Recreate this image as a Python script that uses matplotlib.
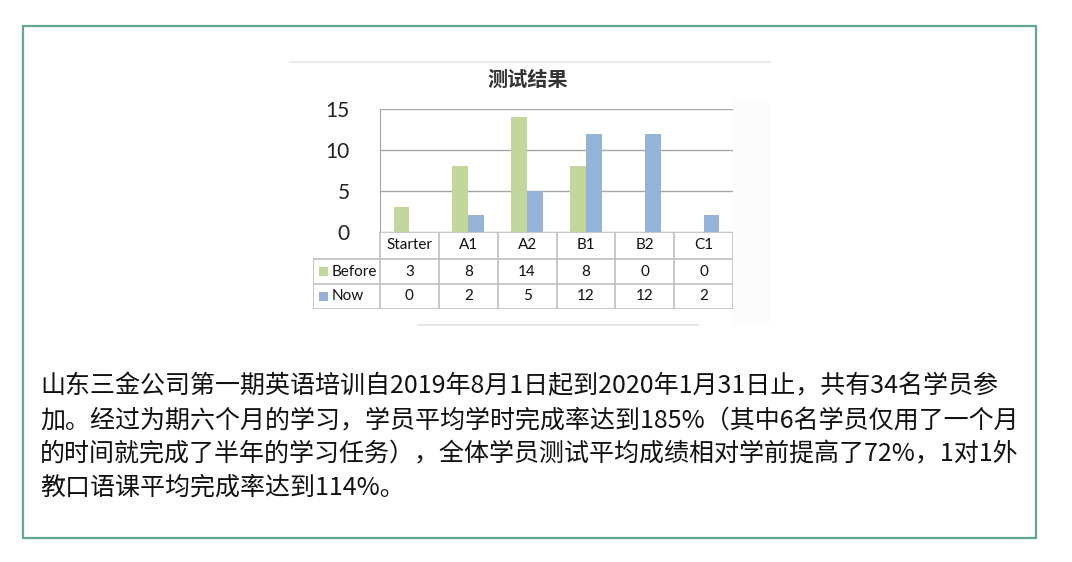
import matplotlib.pyplot as plt
import matplotlib.patches as mpatches
import numpy as np

plt.rcParams['font.family'] = ['Noto Sans CJK SC', 'DejaVu Sans']

categories = ["Starter", "A1", "A2", "B1", "B2", "C1"]
before = [3, 8, 14, 8, 0, 0]
now = [0, 2, 5, 12, 12, 2]
series_names = ["Before", "Now"]
yticks = [0, 5, 10, 15]
chart_title = "测试结果"
paragraph = [
    "山东三金公司第一期英语培训自2019年8月1日起到2020年1月31日止，共有34名学员参",
    "加。经过为期六个月的学习，学员平均学时完成率达到185%（其中6名学员仅用了一个月",
    "的时间就完成了半年的学习任务），全体学员测试平均成绩相对学前提高了72%，1对1外",
    "教口语课平均完成率达到114%。",
]

W, H = 1072, 562
green = "#c3d69b"
blue = "#95b3d7"
grid_gray = "#a6a6a6"
cell_gray = "#bfbfbf"

fig = plt.figure(figsize=(W / 100, H / 100), dpi=100)


def px_axes(x0, y0, x1, y1, **kw):
    # pixel box (top-left origin) -> figure axes
    return fig.add_axes([x0 / W, 1 - y1 / H, (x1 - x0) / W, (y1 - y0) / H], **kw)


# page frame
bg = px_axes(0, 0, W, H)
bg.set_xlim(0, W)
bg.set_ylim(H, 0)
bg.axis("off")
bg.add_patch(mpatches.Rectangle((23, 26), 1013, 512, fill=False,
                                edgecolor="#62a78e", linewidth=1.6))
bg.plot([290, 770], [62, 62], color="#ececec", lw=1.6)
bg.plot([418, 698], [325, 325], color="#e6e6e6", lw=1.4)
bg.add_patch(mpatches.Rectangle((733, 100), 37, 225, color="#fcfcfc", lw=0))
bg.text(528, 79, chart_title, ha="center", va="center", fontsize=14.5,
        fontweight="bold", color="#333333")

for i, line in enumerate(paragraph):
    bg.text(40, 386 + i * 34, line, ha="left", va="center", fontsize=18,
            color="#111111")

# bar chart
ax = px_axes(380, 109, 733, 231.5)
x = np.arange(len(categories))
bw = 0.27
ax.bar(x + 0.5 - bw / 2, before, bw, color=green, zorder=3)
ax.bar(x + 0.5 + bw / 2, now, bw, color=blue, zorder=3)
ax.set_xlim(0, len(categories))
ax.set_ylim(0, 15)
ax.set_yticks(yticks)
ax.set_yticklabels([str(t) for t in yticks], family="Lato", fontsize=15,
                   color="#222222")
ax.tick_params(axis="y", length=0, pad=22)
ax.set_xticks([])
ax.yaxis.grid(True, color=grid_gray, lw=1, zorder=0)
for s in ["top", "right", "bottom"]:
    ax.spines[s].set_visible(False)
ax.spines["left"].set_color(grid_gray)
ax.set_facecolor("none")

# data table below the chart
tab = px_axes(313, 231.5, 733, 309)
left_w = 67 / ((733 - 380) / len(categories))
tab.set_xlim(-left_w, len(categories))
tab.set_ylim(77.5, 0)
tab.axis("off")
row_edges = [0, 27.5, 52.5, 77.5]
n = len(categories)
# horizontal lines
tab.plot([0, n], [row_edges[0]] * 2, color=cell_gray, lw=1.2)
for r in row_edges[1:]:
    tab.plot([-left_w, n], [r, r], color=cell_gray, lw=1.2)
# vertical lines
tab.plot([-left_w, -left_w], [row_edges[1], row_edges[3]], color=cell_gray, lw=1.2)
for c in range(n + 1):
    tab.plot([c, c], [row_edges[0], row_edges[3]], color=cell_gray, lw=1.2)

tfont = dict(family="Lato", fontsize=11, color="#111111")
for i, cat in enumerate(categories):
    tab.text(i + 0.5, (row_edges[0] + row_edges[1]) / 2, cat,
             ha="center", va="center", **tfont)
for r, (name, vals, col) in enumerate(zip(series_names, [before, now], [green, blue])):
    yc = (row_edges[r + 1] + row_edges[r + 2]) / 2
    for i, v in enumerate(vals):
        tab.text(i + 0.5, yc, str(v), ha="center", va="center", **tfont)
    sq = 9 / 58.83
    tab.add_patch(mpatches.Rectangle((-left_w + 6 / 58.83, yc - 4.5), sq, 9,
                                     color=col, lw=0))
    tab.text(-left_w + 19 / 58.83, yc, name, ha="left", va="center", **tfont)

fig.savefig("out.png", dpi=100)
